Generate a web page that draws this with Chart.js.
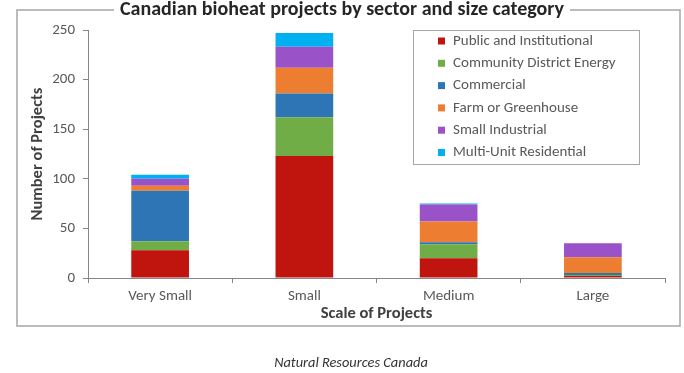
<!DOCTYPE html>
<html>
<head>
<meta charset="utf-8">
<script src="https://cdn.jsdelivr.net/npm/chart.js@4"></script>
<style>
  html, body { margin: 0; padding: 0; background: #fff; }
  #wrap { position: relative; width: 684px; height: 373px; }
  #chart { position: absolute; left: 0; top: 0; }
  #caption {
    position: absolute; left: 0; width: 702px; top: 353px;
    text-align: center; font: italic 14.4px Carlito, Lato, sans-serif; color: #333;
  }
</style>
</head>
<body>
<div id="wrap">
  <canvas id="chart" width="684" height="373"></canvas>
  <div id="caption">Natural Resources Canada</div>
</div>
<script>
const categories = ['Very Small', 'Small', 'Medium', 'Large'];
const sectorNames = ['Public and Institutional', 'Community District Energy', 'Commercial',
  'Farm or Greenhouse', 'Small Industrial', 'Multi-Unit Residential'];
const publicInst = [28, 123, 20, 2];
const communityDistrict = [9, 39, 14, 1];
const commercial = [51, 24, 2, 2];
const farmGreenhouse = [5, 26, 21, 16];
const smallIndustrial = [7, 21, 17, 14];
const multiUnit = [4, 14, 1, 0];
const yTicks = [0, 50, 100, 150, 200, 250];

const colors = ['#C0140F', '#70AD47', '#2E75B6', '#ED7D31', '#9A52C8', '#00B0F0'];
const seriesValues = [publicInst, communityDistrict, commercial, farmGreenhouse, smallIndustrial, multiUnit];

const FONT = 'Carlito, Lato, sans-serif';
const GREY = '#595959';
const AXIS = '#868686';

const datasets = sectorNames.map((name, i) => ({
  label: name,
  data: seriesValues[i],
  backgroundColor: colors[i],
  borderWidth: 0,
  barPercentage: 0.4,
  categoryPercentage: 1
}));

const decorPlugin = {
  id: 'decor',
  afterDraw(chart) {
    const ctx = chart.ctx;
    ctx.save();

    // title with the frame broken around it
    const title = 'Canadian bioheat projects by sector and size category';
    ctx.font = 'bold 20px ' + FONT;
    const tw = ctx.measureText(title).width;
    const cx = 342;
    ctx.fillStyle = '#262626';
    ctx.textAlign = 'center';
    ctx.textBaseline = 'middle';
    ctx.fillText(title, cx, 10);

    ctx.strokeStyle = '#A6A6A6';
    ctx.lineWidth = 1.5;
    const gl = cx - tw / 2 - 6, gr = cx + tw / 2 + 6;
    ctx.beginPath();
    ctx.moveTo(gl, 10);
    ctx.lineTo(17, 10);
    ctx.lineTo(17, 326);
    ctx.lineTo(680, 326);
    ctx.lineTo(680, 10);
    ctx.lineTo(gr, 10);
    ctx.stroke();

    // legend box
    ctx.strokeStyle = '#A6A6A6';
    ctx.lineWidth = 1;
    ctx.strokeRect(413.5, 30.5, 226, 134);
    ctx.font = '15px ' + FONT;
    ctx.textAlign = 'left';
    chart.data.datasets.forEach((ds, i) => {
      const y = 41 + i * 22.3;
      ctx.fillStyle = ds.backgroundColor;
      ctx.fillRect(438, y - 3.5, 7, 7);
      ctx.fillStyle = GREY;
      ctx.fillText(ds.label, 453, y);
    });
    ctx.restore();
  }
};

new Chart(document.getElementById('chart'), {
  type: 'bar',
  data: { labels: categories, datasets: datasets },
  options: {
    responsive: false,
    devicePixelRatio: 1,
    animation: false,
    layout: { padding: { left: 0, top: 30, right: 19, bottom: 49 } },
    plugins: {
      legend: { display: false },
      title: { display: false },
      tooltip: { enabled: false }
    },
    scales: {
      x: {
        stacked: true,
        grid: { drawOnChartArea: false, drawTicks: true, tickLength: 5, color: AXIS, offset: true },
        border: { color: AXIS, width: 1 },
        ticks: { color: GREY, font: { family: FONT, size: 15 }, padding: 4 },
        title: {
          display: true, text: 'Scale of Projects', color: '#404040',
          font: { family: FONT, size: 16.5, weight: 'bold' }, padding: { top: 0, bottom: 0 }
        },
        afterFit(scale) { scale.height = 46; }
      },
      y: {
        stacked: true,
        min: 0,
        max: 250,
        afterBuildTicks(scale) { scale.ticks = yTicks.map(v => ({ value: v })); },
        grid: { drawOnChartArea: false, drawTicks: true, tickLength: 5, color: AXIS },
        border: { color: AXIS, width: 1 },
        ticks: { color: GREY, font: { family: FONT, size: 15 }, padding: 8 },
        title: {
          display: true, text: 'Number of Projects', color: '#404040',
          font: { family: FONT, size: 16.5, weight: 'bold' }, padding: { top: 28, bottom: 0 }
        },
        afterFit(scale) { scale.width = 88; }
      }
    }
  },
  plugins: [decorPlugin]
});
</script>
</body>
</html>
